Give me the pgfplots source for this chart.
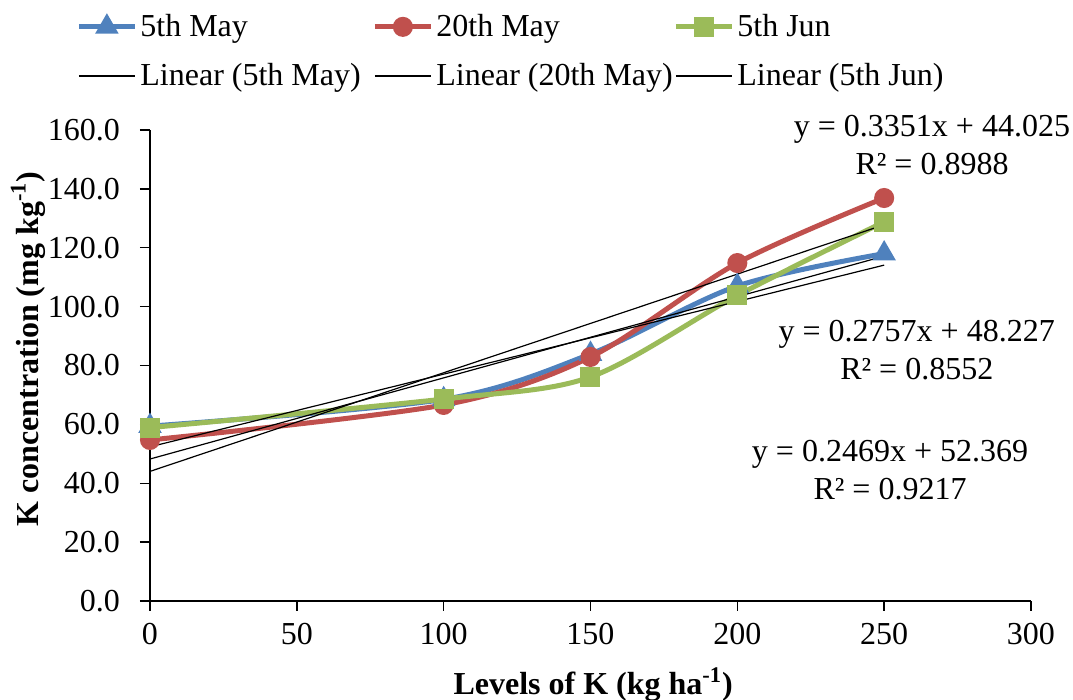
\documentclass[border=0pt]{standalone}
\usepackage{fontspec}
\setmainfont{Liberation Serif}
\usepackage{pgfplots}
\pgfplotsset{compat=1.18}
\definecolor{exblue}{RGB}{79,129,189}
\definecolor{exred}{RGB}{192,80,77}
\definecolor{exgreen}{RGB}{155,187,89}

\begin{document}
\begin{tikzpicture}[font=\fontsize{16}{19}\selectfont]
\useasboundingbox (-75pt,-49.5pt) rectangle (461.5pt,300.5pt);
\begin{axis}[
    scale only axis,
    width=440.5pt, height=235.5pt,
    xmin=0, xmax=300,
    ymin=0, ymax=160,
    xtick={0,50,...,300},
    ytick={0,20,...,160},
    axis x line*=bottom,
    axis y line*=left,
    axis line style={black, line width=0.7pt},
    tick style={black, line width=0.7pt},
    tick align=outside,
    major tick length=5pt,
    /pgf/number format/assume math mode=true,
    yticklabel style={/pgf/number format/.cd, fixed, fixed zerofill, precision=1, /tikz/.cd, xshift=-6.5pt},
    xticklabel style={/pgf/number format/fixed, yshift=-2.5pt},
    ticklabel style={font=\fontsize{16}{19}\selectfont},
    xlabel={\textbf{Levels of K (kg ha\textsuperscript{-1})}},
    ylabel={\textbf{K concentration (mg kg\textsuperscript{-1})}},
    xlabel style={at={(axis description cs:0.503,-0.178)}, anchor=center},
    ylabel style={at={(axis description cs:-0.1385,0.535)}, anchor=center},
    clip=false,
    legend columns=3,
    legend cell align=left,
    legend style={at={(-0.0908,1.2636)}, anchor=north west, draw=none, fill=none,
        row sep=8pt, column sep=0pt, nodes={inner xsep=1.5pt},
        font=\fontsize{16}{19}\selectfont},
    legend image code/.code={
        \draw[mark repeat=2, mark phase=2] plot coordinates {(0pt,0pt) (14pt,0pt) (28pt,0pt)};
    },
]

\addplot[exblue, line width=2.5pt, smooth, mark=triangle*, mark size=4.3pt, mark options={solid}]
    coordinates {(0,59.4) (100,68.5) (150,83.9) (200,107.0) (250,118.0)};
\addlegendentry{\makebox[114.5pt][l]{5th May}}
\addplot[exred, line width=2.5pt, smooth, mark=*, mark size=3.75pt, mark options={solid}]
    coordinates {(0,54.7) (100,66.6) (150,82.9) (200,114.8) (250,136.9)};
\addlegendentry{\makebox[117pt][l]{20th May}}
\addplot[exgreen, line width=2.5pt, smooth, mark=square*, mark size=3.75pt, mark options={solid}]
    coordinates {(0,58.9) (100,68.6) (150,76.1) (200,103.8) (250,128.8)};
\addlegendentry{5th Jun}

% linear trend lines
\addplot[black, line width=0.6pt] coordinates {(0,52.369) (250,114.094)};
\addlegendentry{\makebox[114.5pt][l]{Linear (5th May)}}
\addplot[black, line width=0.6pt] coordinates {(0,44.025) (250,127.8)};
\addlegendentry{\makebox[117pt][l]{Linear (20th May)}}
\addplot[black, line width=0.6pt] coordinates {(0,48.227) (250,117.152)};
\addlegendentry{Linear (5th Jun)}

\node[align=center] at (axis cs:266.3,154.9) {y = 0.3351x + 44.025\\R² = 0.8988};
\node[align=center] at (axis cs:261.1,85.3) {y = 0.2757x + 48.227\\R² = 0.8552};
\node[align=center] at (axis cs:252.0,44.5) {y = 0.2469x + 52.369\\R² = 0.9217};
\end{axis}
\end{tikzpicture}
\end{document}
